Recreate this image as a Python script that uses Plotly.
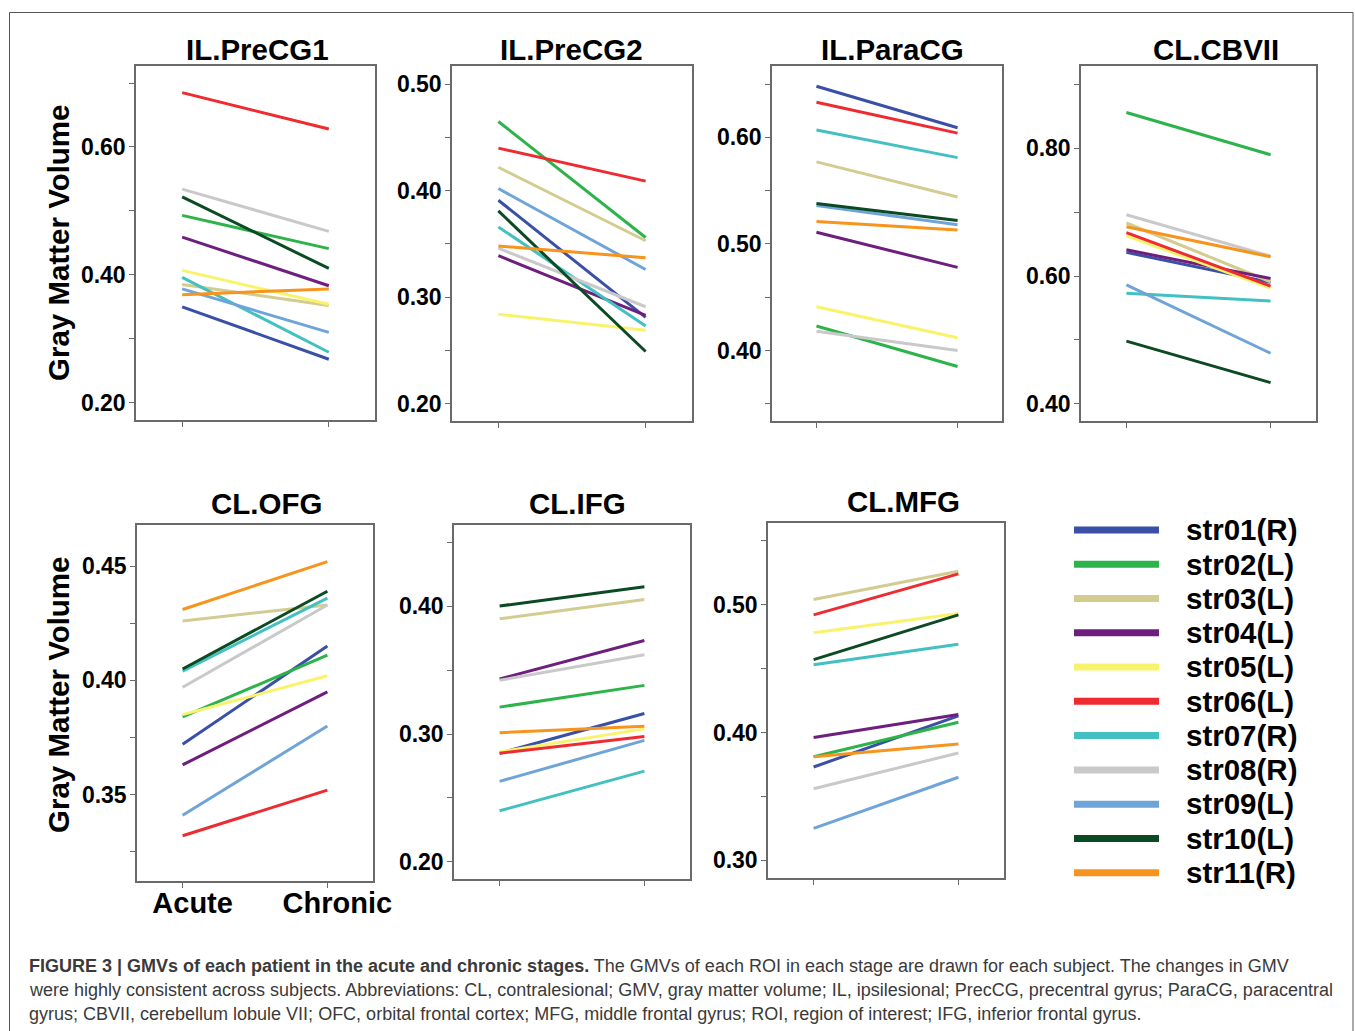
import plotly.graph_objects as go

# ---------------- data ----------------
subjects = ["str01(R)", "str02(L)", "str03(L)", "str04(L)", "str05(L)", "str06(L)",
            "str07(R)", "str08(R)", "str09(L)", "str10(L)", "str11(R)"]
colors = ["#3a4fa6", "#2db34a", "#d3cc91", "#6e1f7e", "#f9f36b", "#ee2b30",
          "#42c0c2", "#c9c9c9", "#6fa4d9", "#0b4a22", "#f7941d"]
stages = ["Acute", "Chronic"]

panel_titles = ["IL.PreCG1", "IL.PreCG2", "IL.ParaCG", "CL.CBVII", "CL.OFG", "CL.IFG", "CL.MFG"]

precg1_acute   = [0.350, 0.493, 0.385, 0.459, 0.407, 0.685, 0.396, 0.534, 0.378, 0.522, 0.369]
precg1_chronic = [0.268, 0.441, 0.352, 0.383, 0.354, 0.628, 0.279, 0.468, 0.310, 0.410, 0.378]

precg2_acute   = [0.391, 0.465, 0.422, 0.339, 0.284, 0.440, 0.366, 0.346, 0.402, 0.381, 0.348]
precg2_chronic = [0.281, 0.356, 0.353, 0.283, 0.269, 0.409, 0.273, 0.291, 0.326, 0.249, 0.337]

paracg_acute   = [0.648, 0.423, 0.577, 0.511, 0.441, 0.633, 0.607, 0.418, 0.536, 0.538, 0.521]
paracg_chronic = [0.609, 0.385, 0.544, 0.478, 0.412, 0.604, 0.581, 0.400, 0.518, 0.522, 0.513]

cbvii_acute    = [0.637, 0.856, 0.683, 0.641, 0.663, 0.668, 0.573, 0.696, 0.586, 0.498, 0.677]
cbvii_chronic  = [0.590, 0.790, 0.591, 0.596, 0.581, 0.584, 0.561, 0.631, 0.479, 0.433, 0.630]

ofg_acute      = [0.372, 0.384, 0.426, 0.363, 0.385, 0.332, 0.404, 0.397, 0.341, 0.405, 0.431]
ofg_chronic    = [0.415, 0.411, 0.433, 0.395, 0.402, 0.352, 0.436, 0.433, 0.380, 0.439, 0.452]

ifg_acute      = [0.285, 0.321, 0.390, 0.343, 0.286, 0.285, 0.240, 0.342, 0.263, 0.400, 0.301]
ifg_chronic    = [0.316, 0.338, 0.405, 0.373, 0.304, 0.298, 0.271, 0.362, 0.295, 0.415, 0.306]

mfg_acute      = [0.373, 0.381, 0.504, 0.396, 0.478, 0.492, 0.453, 0.356, 0.325, 0.457, 0.381]
mfg_chronic    = [0.413, 0.408, 0.526, 0.414, 0.493, 0.524, 0.469, 0.384, 0.365, 0.492, 0.391]

# y-axis tick values and which ones carry labels
precg1_ticks = [0.2, 0.3, 0.4, 0.5, 0.6, 0.7]
precg1_labels = ["0.20", "", "0.40", "", "0.60", ""]
precg2_ticks = [0.20, 0.25, 0.30, 0.35, 0.40, 0.45, 0.50]
precg2_labels = ["0.20", "", "0.30", "", "0.40", "", "0.50"]
paracg_ticks = [0.35, 0.40, 0.45, 0.50, 0.55, 0.60, 0.65]
paracg_labels = ["", "0.40", "", "0.50", "", "0.60", ""]
cbvii_ticks = [0.4, 0.5, 0.6, 0.7, 0.8, 0.9]
cbvii_labels = ["0.40", "", "0.60", "", "0.80", ""]
ofg_ticks = [0.325, 0.35, 0.375, 0.40, 0.425, 0.45]
ofg_labels = ["", "0.35", "", "0.40", "", "0.45"]
ifg_ticks = [0.20, 0.25, 0.30, 0.35, 0.40, 0.45]
ifg_labels = ["0.20", "", "0.30", "", "0.40", ""]
mfg_ticks = [0.30, 0.35, 0.40, 0.45, 0.50, 0.55]
mfg_labels = ["0.30", "", "0.40", "", "0.50", ""]

caption_lines = [
    "<b>FIGURE 3 | GMVs of each patient in the acute and chronic stages.</b> The GMVs of each ROI in each stage are drawn for each subject. The changes in GMV",
    "were highly consistent across subjects. Abbreviations: CL, contralesional; GMV, gray matter volume; IL, ipsilesional; PrecCG, precentral gyrus; ParaCG, paracentral",
    "gyrus; CBVII, cerebellum lobule VII; OFC, orbital frontal cortex; MFG, middle frontal gyrus; ROI, region of interest; IFG, inferior frontal gyrus.",
]

# ---------------- layout geometry (reference pixels) ----------------
W_REF, H = 1355, 1031
W = 1374  # page is photographed slightly wider than the window; compensate
def px(x):
    return x / W_REF
def py(y):
    return 1 - y / H

panels = [
    (precg1_acute, precg1_chronic, precg1_ticks, precg1_labels, (136, 375), (66, 420), (0.173, 0.7266), (257, 50)),
    (precg2_acute, precg2_chronic, precg2_ticks, precg2_labels, (452, 692), (66, 421), (0.1837, 0.5171), (571, 50)),
    (paracg_acute, paracg_chronic, paracg_ticks, paracg_labels, (772, 1002), (66, 421), (0.3338, 0.667), (892, 50)),
    (cbvii_acute, cbvii_chronic, cbvii_ticks, cbvii_labels, (1081, 1316), (66, 421), (0.3729, 0.9289), (1216, 49)),
    (ofg_acute, ofg_chronic, ofg_ticks, ofg_labels, (137, 373), (525, 881), (0.3122, 0.468), (266, 503)),
    (ifg_acute, ifg_chronic, ifg_ticks, ifg_labels, (454, 690), (525, 879), (0.1867, 0.4633), (577, 503)),
    (mfg_acute, mfg_chronic, mfg_ticks, mfg_labels, (768, 1004), (523, 878), (0.2862, 0.5638), (904, 502)),
]

FONT = "Liberation Sans, Arial, sans-serif"
fig = go.Figure()
layout = dict(
    width=W, height=H, autosize=False, margin=dict(l=0, r=0, t=0, b=0),
    paper_bgcolor="white", plot_bgcolor="white", showlegend=False,
    font=dict(family=FONT, color="black"),
)
annotations = []

for i, (acute, chronic, ticks, labels, xd, yd, yr, tpos) in enumerate(panels):
    n = i + 1
    xa = "x" if n == 1 else f"x{n}"
    ya = "y" if n == 1 else f"y{n}"
    for s in range(len(subjects)):
        fig.add_trace(go.Scatter(
            x=stages, y=[acute[s], chronic[s]], mode="lines", name=subjects[s],
            line=dict(color=colors[s], width=3), xaxis=xa, yaxis=ya, hoverinfo="name+y",
        ))
    show_x = (n == 5)
    layout["xaxis" if n == 1 else f"xaxis{n}"] = dict(
        domain=[px(xd[0]), px(xd[1])], anchor=ya, type="category",
        categoryorder="array", categoryarray=stages, range=[-0.315, 1.315],
        showline=True, mirror=True, linecolor="#6a6a6a", linewidth=1.5,
        ticks="outside", ticklen=5, tickcolor="#6a6a6a", showgrid=False, zeroline=False,
        showticklabels=show_x, ticklabelshift=10, ticklabelstandoff=-10,
        tickfont=dict(size=29, family=FONT, weight="bold"),
    )
    layout["yaxis" if n == 1 else f"yaxis{n}"] = dict(
        domain=[py(yd[1]), py(yd[0])], anchor=xa, range=list(yr),
        showline=True, mirror=True, linecolor="#6a6a6a", linewidth=1.5,
        ticks="outside", ticklen=5, tickcolor="#6a6a6a", showgrid=False, zeroline=False,
        tickvals=ticks, ticktext=labels, ticklabelstandoff=-1,
        tickfont=dict(size=23, family=FONT, weight="bold"),
    )
    annotations.append(dict(
        text=f"<b>{panel_titles[i]}</b>", x=px(tpos[0]), y=py(tpos[1]), xref="paper", yref="paper",
        xanchor="center", yanchor="middle", showarrow=False, font=dict(size=29.5, family=FONT),
    ))

# y-axis titles
for yc in (243, 695):
    annotations.append(dict(
        text="<b>Gray Matter Volume</b>", x=px(58), y=py(yc), xref="paper", yref="paper",
        xanchor="center", yanchor="middle", textangle=-90, showarrow=False,
        font=dict(size=29.5, family=FONT),
    ))

# legend panel: one line per subject drawn through its own category axis
for s in range(len(subjects)):
    fig.add_trace(go.Scatter(
        x=stages, y=[subjects[s], subjects[s]], mode="lines", name=subjects[s],
        line=dict(color=colors[s], width=7), xaxis="x8", yaxis="y8", hoverinfo="name",
    ))
layout["xaxis8"] = dict(domain=[px(1074), px(1159)], anchor="y8", type="category",
                        categoryorder="array", categoryarray=stages, range=[0, 1],
                        visible=False)
layout["yaxis8"] = dict(domain=[py(889.8), py(512.9)], anchor="x8", type="category",
                        categoryorder="array", categoryarray=subjects,
                        tickmode="array", tickvals=subjects, ticktext=subjects,
                        range=[len(subjects) - 0.5, -0.5], side="right",
                        showline=False, showgrid=False, zeroline=False, ticks="",
                        ticklabelstandoff=26, ticklabeloverflow="allow",
                        tickfont=dict(size=29.5, family=FONT, weight="bold", color="black"))

# caption
for k, (line, yc) in enumerate(zip(caption_lines, (966, 990, 1014))):
    annotations.append(dict(
        text=line, x=px(27), y=py(yc), xref="paper", yref="paper",
        xanchor="left", yanchor="middle", showarrow=False, align="left",
        font=dict(size=18, family=FONT, color="#3a3a3a"),
    ))

layout["annotations"] = annotations
layout["shapes"] = [dict(type="rect", xref="paper", yref="paper",
                         x0=px(9.5), x1=px(1353), y0=py(1040), y1=py(12.5),
                         line=dict(color="#555555", width=1))]
fig.update_layout(**layout)
fig.write_html(
    "out.html",
    config={"responsive": False, "displayModeBar": False},
    post_script="document.body.style.margin='0';document.body.style.overflow='hidden';",
)
